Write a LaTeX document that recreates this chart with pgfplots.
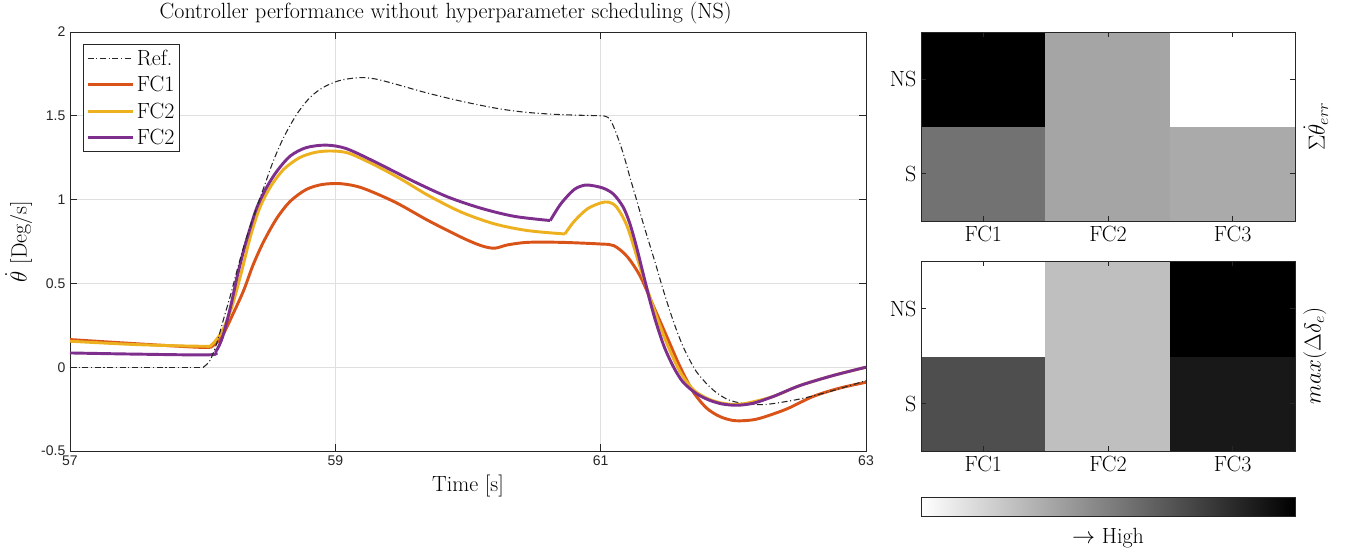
\documentclass[border=0pt]{standalone}
\usepackage{fontspec}
\usepackage{pgfplots}
\pgfplotsset{compat=1.18}
\newfontfamily\ticksans{Liberation Sans}
\definecolor{fcone}{HTML}{D95319}
\definecolor{fctwo}{HTML}{EDB120}
\definecolor{fcthree}{HTML}{7E2F8E}
\definecolor{axgray}{HTML}{262626}
\definecolor{gridgray}{HTML}{DFDFDF}
\newcommand{\lbl}{\fontsize{16.5}{19}\selectfont}
\begin{document}
\begin{tikzpicture}
\begin{axis}[name=main, at={(0pt,0pt)}, anchor=south west,
  scale only axis, width=597pt, height=314.25pt,
  xmin=57, xmax=63, ymin=-0.5, ymax=2,
  xtick={57,59,61,63}, xticklabels={57,59,61,63},
  ytick={-0.5,0,0.5,1,1.5,2}, yticklabels={-0.5,0,0.5,1,1.5,2},
  /pgf/number format/assume math mode=true,
  grid=major, grid style={gridgray, line width=0.6pt},
  axis line style={axgray, line width=0.6pt},
  tick style={axgray, line width=0.6pt}, major tick length=5pt,
  tick label style={font=\ticksans\fontsize{10.5}{12}\selectfont, text=axgray},
  xlabel={Time [s]}, ylabel={$\dot{\theta}$ [Deg/s]},
  label style={font=\lbl},
  title={Controller performance without hyperparameter scheduling (NS)},
  title style={font=\lbl, at={(0.472,1)}, anchor=south, yshift=-3.5pt},
  legend style={at={(0.0163,0.9714)}, anchor=north west, font=\lbl,
    draw=axgray, line width=0.6pt, cells={anchor=west}, inner sep=2pt, row sep=2.8pt},
  legend image code/.code={\draw[#1] (0pt,0pt) -- (34pt,0pt);},
]
% Ref
\addplot[axgray, line width=0.8pt, dash pattern=on 4.5pt off 2pt on 0.8pt off 2pt] coordinates {
(57,0) (58.005,0)};
\addlegendentry{Ref.}
\addplot[fcone, line width=2.2pt, smooth] coordinates {
(57,0.165) (57.5,0.14) (58.0,0.118) (58.08,0.13) (58.15,0.19) (58.23,0.32) (58.31,0.46) (58.38,0.61) (58.46,0.75) (58.56,0.89) (58.66,0.99) (58.78,1.06) (58.9,1.09) (59.04,1.095) (59.2,1.07) (59.45,0.985) (59.7,0.875) (59.95,0.775) (60.1,0.725) (60.2,0.71) (60.3,0.73) (60.45,0.745) (60.7,0.745) (61.0,0.735) (61.1,0.725) (61.2,0.66) (61.3,0.54) (61.4,0.36) (61.5,0.18) (61.6,0.0) (61.7,-0.15) (61.8,-0.245) (61.9,-0.295) (62.0,-0.318) (62.1,-0.318) (62.2,-0.305) (62.4,-0.25) (62.6,-0.175) (62.8,-0.125) (63,-0.09)};
\addlegendentry{FC1}
\addplot[fctwo, line width=2.2pt, smooth] coordinates {
(57,0.155) (57.5,0.135) (58.0,0.125) (58.07,0.135) (58.15,0.22) (58.22,0.36) (58.29,0.56) (58.36,0.78) (58.43,0.95) (58.51,1.075) (58.61,1.18) (58.73,1.25) (58.85,1.282) (58.97,1.29) (59.1,1.277) (59.3,1.205) (59.5,1.12) (59.7,1.025) (59.95,0.925) (60.2,0.855) (60.45,0.815) (60.73,0.795)};
\addlegendentry{FC2}
\addplot[fcthree, line width=2.2pt, smooth] coordinates {
(57,0.085) (57.5,0.078) (58.05,0.074) (58.1,0.095) (58.15,0.18) (58.21,0.36) (58.26,0.54) (58.31,0.70) (58.36,0.835) (58.41,0.955) (58.48,1.07) (58.56,1.17) (58.66,1.26) (58.78,1.31) (58.93,1.325) (59.08,1.305) (59.3,1.225) (59.6,1.105) (59.85,1.015) (60.1,0.948) (60.35,0.9) (60.62,0.875)};
\addlegendentry{FC2}
% remaining segments
\addplot[forget plot, axgray, line width=0.8pt, dash pattern=on 4.5pt off 2pt on 0.8pt off 2pt, smooth] coordinates {
(58.005,0) (58.055,0.04) (58.105,0.14) (58.155,0.28) (58.21,0.43) (58.26,0.58) (58.31,0.72) (58.36,0.845) (58.41,0.96) (58.46,1.07) (58.53,1.225) (58.61,1.37) (58.71,1.51) (58.81,1.61) (58.91,1.67) (59.03,1.71) (59.18,1.728) (59.3,1.72) (59.45,1.69) (59.65,1.645) (59.85,1.605) (60.05,1.57) (60.25,1.54) (60.45,1.52) (60.7,1.507) (61.02,1.50)};
\addplot[forget plot, axgray, line width=0.8pt, dash pattern=on 4.5pt off 2pt on 0.8pt off 2pt, smooth] coordinates {
(61.02,1.50) (61.07,1.48) (61.12,1.39) (61.17,1.275) (61.22,1.135) (61.27,1.0) (61.32,0.86) (61.37,0.73) (61.42,0.60) (61.47,0.465) (61.52,0.34) (61.57,0.225) (61.62,0.125) (61.67,0.045) (61.72,-0.025) (61.80,-0.10) (61.87,-0.15) (61.95,-0.19) (62.03,-0.21) (62.12,-0.22) (62.25,-0.222) (62.5,-0.19) (62.75,-0.14) (63,-0.08)};
\addplot[forget plot, fctwo, line width=2.2pt, smooth] coordinates {
(60.73,0.795) (60.8,0.87) (60.9,0.945) (61.0,0.98) (61.06,0.985) (61.12,0.955) (61.2,0.84) (61.3,0.59) (61.4,0.35) (61.5,0.14) (61.6,-0.03) (61.7,-0.135) (61.8,-0.185) (61.9,-0.212) (62.0,-0.222) (62.1,-0.215) (62.3,-0.175) (62.5,-0.11) (62.75,-0.05) (63,0.0)};
\addplot[forget plot, fcthree, line width=2.2pt, smooth] coordinates {
(60.62,0.875) (60.7,0.975) (60.8,1.06) (60.88,1.086) (60.95,1.082) (61.03,1.065) (61.1,1.03) (61.17,0.955) (61.22,0.857) (61.27,0.718) (61.32,0.559) (61.37,0.40) (61.42,0.26) (61.48,0.12) (61.55,0.0) (61.62,-0.088) (61.72,-0.157) (61.82,-0.197) (61.92,-0.22) (62.03,-0.227) (62.15,-0.215) (62.3,-0.175) (62.5,-0.11) (62.75,-0.05) (63,0.0)};
\end{axis}
% top heatmap
\begin{axis}[name=hm1, at={(638.25pt,172.5pt)}, anchor=south west,
  scale only axis, width=280.5pt, height=141.75pt,
  xmin=-0.5, xmax=2.5, ymin=-0.5, ymax=1.5, enlargelimits=false,
  xtick={0,1,2}, xticklabels={FC1,FC2,FC3},
  ytick={0,1}, yticklabels={S,NS},
  tick label style={font=\lbl},
  axis line style={axgray, line width=0.6pt},
  tick style={axgray, line width=0.6pt}, major tick length=4pt,
  colormap={wb}{gray(0cm)=(1); gray(1cm)=(0)},
  point meta min=0, point meta max=1, axis on top,
  ylabel={$\Sigma\dot{\theta}_{err}$},
  ylabel style={font=\lbl, at={(rel axis cs:1.01,0.5)}, anchor=north},
]
\addplot[matrix plot*, mesh/cols=3, point meta=explicit] coordinates {
(0,0) [0.55] (1,0) [0.35] (2,0) [0.33]
(0,1) [1.00] (1,1) [0.35] (2,1) [0.00]};
\end{axis}
% bottom heatmap
\begin{axis}[name=hm2, at={(638.25pt,0pt)}, anchor=south west,
  scale only axis, width=280.5pt, height=142.5pt,
  xmin=-0.5, xmax=2.5, ymin=-0.5, ymax=1.5, enlargelimits=false,
  xtick={0,1,2}, xticklabels={FC1,FC2,FC3},
  ytick={0,1}, yticklabels={S,NS},
  tick label style={font=\lbl},
  axis line style={axgray, line width=0.6pt},
  tick style={axgray, line width=0.6pt}, major tick length=4pt,
  colormap={wb}{gray(0cm)=(1); gray(1cm)=(0)},
  point meta min=0, point meta max=1, axis on top,
  ylabel={$max(\Delta\delta_e)$},
  ylabel style={font=\lbl, at={(rel axis cs:1.01,0.5)}, anchor=north},
  colorbar horizontal,
  colorbar style={at={(parent axis.south west)}, anchor=north west, yshift=-26pt,
    scale only axis, width=280.5pt, height=14.25pt,
    xtick=\empty, ytick=\empty,
    axis line style={axgray, line width=0.6pt},
    xlabel={$\rightarrow$ High}, xlabel style={font=\lbl, yshift=-5.5pt}},
]
\addplot[matrix plot*, mesh/cols=3, point meta=explicit] coordinates {
(0,0) [0.69] (1,0) [0.25] (2,0) [0.90]
(0,1) [0.00] (1,1) [0.25] (2,1) [1.00]};
\end{axis}
\pgfresetboundingbox
\path (-52.5pt,-74.25pt) rectangle (957pt,338.25pt);
\end{tikzpicture}
\end{document}
